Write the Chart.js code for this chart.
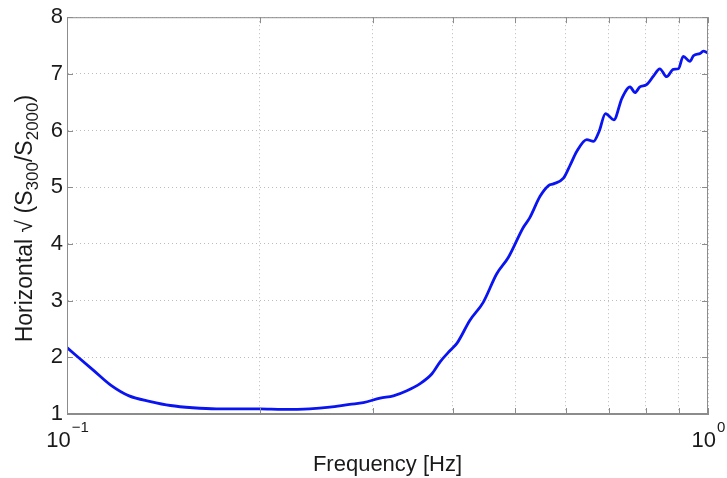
<!DOCTYPE html>
<html>
<head>
<meta charset="utf-8">
<script src="https://cdn.jsdelivr.net/npm/chart.js@4.4.0/dist/chart.umd.min.js"></script>
<style>
  html, body { margin: 0; padding: 0; background: #fff; }
  #wrap { width: 727px; height: 478px; }
</style>
</head>
<body>
<div id="wrap"><canvas id="c" width="727" height="478"></canvas></div>
<script>
// frequency [Hz] and horizontal spectral ratio
const freq = [0.1, 0.11, 0.117, 0.125, 0.135, 0.145, 0.157, 0.171, 0.186, 0.2,
  0.217, 0.239, 0.257, 0.276, 0.29, 0.308, 0.323, 0.339, 0.356, 0.371,
  0.382, 0.396, 0.406, 0.425, 0.446, 0.468, 0.488, 0.515, 0.527, 0.547,
  0.564, 0.574, 0.595, 0.61, 0.624, 0.647, 0.663, 0.676, 0.692, 0.713,
  0.734, 0.756, 0.769, 0.783, 0.802, 0.822, 0.841, 0.862, 0.883, 0.899,
  0.915, 0.937, 0.949, 0.972, 0.983, 1.0];
const ratio = [2.17, 1.77, 1.51, 1.32, 1.22, 1.15, 1.11, 1.09, 1.09, 1.09,
  1.08, 1.09, 1.12, 1.17, 1.20, 1.28, 1.32, 1.41, 1.54, 1.71,
  1.92, 2.12, 2.25, 2.65, 2.97, 3.47, 3.76, 4.29, 4.46, 4.84,
  5.03, 5.06, 5.16, 5.40, 5.63, 5.84, 5.81, 5.98, 6.30, 6.19,
  6.57, 6.77, 6.67, 6.77, 6.81, 6.96, 7.09, 6.95, 7.08, 7.09,
  7.31, 7.22, 7.32, 7.36, 7.40, 7.37];

// axis ticks
const xGridValues = [0.1, 0.2, 0.3, 0.4, 0.5, 0.6, 0.7, 0.8, 0.9, 1];
const xDecades = [0.1, 1];
const xDecadeBase = ['10', '10'];
const xDecadeExp = ['\u22121', '0'];
const yTickValues = [1, 2, 3, 4, 5, 6, 7, 8];

const FONT = "'Liberation Sans', Arial, sans-serif";
const TEXT = '#1a1a1a';
const AXIS = '#8c8c8c';

Chart.defaults.font.family = FONT;

// box, inward ticks, superscript x labels and subscript y title
const matlabAxes = {
  id: 'matlabAxes',
  afterDraw(chart) {
    const ctx = chart.ctx;
    const a = chart.chartArea;
    const xs = chart.scales.x, ys = chart.scales.y;
    ctx.save();
    ctx.strokeStyle = AXIS;
    ctx.lineWidth = 1;
    ctx.strokeRect(a.left + 0.5, a.top + 0.5, a.right - a.left - 1, a.bottom - a.top - 1);
    ctx.beginPath();
    yTickValues.forEach(v => {
      const py = Math.round(ys.getPixelForValue(v)) + 0.5;
      ctx.moveTo(a.left, py); ctx.lineTo(a.left + 6, py);
      ctx.moveTo(a.right, py); ctx.lineTo(a.right - 6, py);
    });
    xGridValues.forEach(v => {
      const px = Math.round(xs.getPixelForValue(v)) + 0.5;
      ctx.moveTo(px, a.bottom); ctx.lineTo(px, a.bottom - 6);
      ctx.moveTo(px, a.top); ctx.lineTo(px, a.top + 6);
    });
    ctx.stroke();

    // x decade labels 10^n
    ctx.fillStyle = TEXT;
    ctx.textBaseline = 'alphabetic';
    ctx.textAlign = 'left';
    xDecades.forEach((v, i) => {
      const px = xs.getPixelForValue(v);
      ctx.font = '22px ' + FONT;
      const wb = ctx.measureText(xDecadeBase[i]).width;
      ctx.font = '15px ' + FONT;
      const we = ctx.measureText(xDecadeExp[i]).width;
      const x0 = px - (wb + we) / 2;
      ctx.font = '22px ' + FONT;
      ctx.fillText(xDecadeBase[i], x0, 447);
      ctx.font = '15px ' + FONT;
      ctx.fillText(xDecadeExp[i], x0 + wb + 1, 432);
    });

    // y title with subscripts
    const parts = [
      ['Horizontal \u221A (S', 23, 0],
      ['300', 17, 6],
      ['/S', 23, 0],
      ['2000', 17, 6],
      [')', 23, 0]
    ];
    let total = 0;
    parts.forEach(p => { ctx.font = p[1] + 'px ' + FONT; total += ctx.measureText(p[0]).width; });
    const cy = (a.top + a.bottom) / 2 + 3;
    ctx.translate(32, cy);
    ctx.rotate(-Math.PI / 2);
    let x = -total / 2;
    parts.forEach(p => {
      ctx.font = p[1] + 'px ' + FONT;
      ctx.fillText(p[0], x, p[2]);
      x += ctx.measureText(p[0]).width;
    });
    ctx.restore();
  }
};

new Chart(document.getElementById('c'), {
  type: 'line',
  data: {
    datasets: [{
      data: freq.map((f, i) => ({ x: f, y: ratio[i] })),
      borderColor: '#0a14f0',
      borderWidth: 2.8,
      pointRadius: 0,
      cubicInterpolationMode: 'monotone',
      fill: false
    }]
  },
  options: {
    responsive: false,
    animation: false,
    devicePixelRatio: 1,
    layout: { padding: { left: 0, right: 19, top: 15, bottom: 0 } },
    plugins: { legend: { display: false }, tooltip: { enabled: false } },
    scales: {
      x: {
        type: 'logarithmic',
        min: 0.1,
        max: 1,
        afterBuildTicks: s => { s.ticks = xGridValues.map(v => ({ value: v })); },
        afterFit: s => { s.height = 64; },
        ticks: { display: false, autoSkip: false },
        grid: { color: '#bcbcbc', lineWidth: 1, drawTicks: false },
        border: { display: true, color: AXIS, dash: [1, 3] },
        title: {
          display: true,
          text: 'Frequency [Hz]',
          color: TEXT,
          font: { size: 22 },
          padding: { top: 0, bottom: 0 }
        }
      },
      y: {
        min: 1,
        max: 8,
        afterBuildTicks: s => { s.ticks = yTickValues.map(v => ({ value: v })); },
        afterFit: s => { s.width = 67; },
        ticks: { color: TEXT, font: { size: 22 }, padding: 4 },
        grid: { color: '#bcbcbc', lineWidth: 1, drawTicks: false },
        border: { display: true, color: AXIS, dash: [1, 3] }
      }
    }
  },
  plugins: [matlabAxes]
});
</script>
</body>
</html>
